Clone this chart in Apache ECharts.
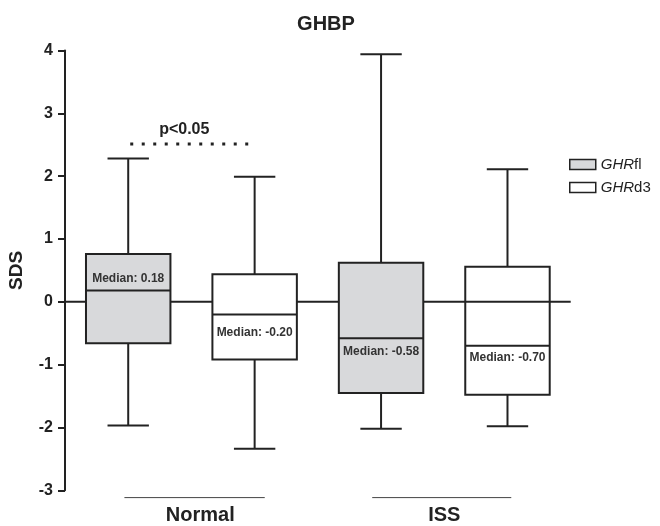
<!DOCTYPE html>
<html><head><meta charset="utf-8">
<script src="https://cdn.jsdelivr.net/npm/echarts@6/dist/echarts.min.js"></script>
<style>html,body{margin:0;padding:0;background:#fff}#c{width:660px;height:526px}</style>
</head><body><div id="c"></div>
<script>
// ---- data ----
const chartTitle = 'GHBP';
const yName = 'SDS';
const groups = ['Normal', 'ISS'];
const seriesNames = ['GHRfl', 'GHRd3'];
const categories = ['Normal GHRfl', 'Normal GHRd3', 'ISS GHRfl', 'ISS GHRd3'];
// each box: [min, Q1, median, Q3, max]
const ghrFl = [[-1.97, -0.66, 0.18, 0.76, 2.28], [-2.02, -1.45, -0.58, 0.62, 3.94]];
const ghrD3 = [[-2.34, -0.92, -0.20, 0.44, 1.99], [-1.98, -1.48, -0.70, 0.56, 2.11]];
const flCats = [0, 2];
const d3Cats = [1, 3];
const yTicks = [-3, -2, -1, 0, 1, 2, 3, 4];
const sigText = 'p<0.05';
const sigLevel = 2.51;

// ---- layout / style ----
const FONT = "'Liberation Sans', Arial, Helvetica, sans-serif";
const INK = '#222';
const flFill = ['#d8d9db', '#d8d9db'];
const d3Fill = ['#ffffff', 'rgba(255,255,255,0)'];
const flLabelOffset = [-12, 13];
const d3LabelOffset = [18, 12];
const groupSpan = [[0.47, 1.58], [2.43, 3.53]];
const groupLabelX = [1.07, 3.0];
const sigSpan = [0.516, 1.45];

function boxRender(fill, offs) {
  return function (params, api) {
    const x = api.value(0);
    const vals = [1, 2, 3, 4, 5].map(i => api.value(i));
    const pts = vals.map(v => api.coord([x, v]));
    const cx = pts[0][0];
    const band = api.size([1, 0])[0];
    const hw = band * 0.334;
    const cw = hw * 0.49;
    const pMin = pts[0][1], pQ1 = pts[1][1], pMed = pts[2][1], pQ3 = pts[3][1], pMax = pts[4][1];
    const ls = { stroke: INK, lineWidth: 2 };
    const i = params.dataIndex;
    return {
      type: 'group', children: [
        { type: 'line', shape: { x1: cx, y1: pQ3, x2: cx, y2: pMax }, style: ls },
        { type: 'line', shape: { x1: cx - cw, y1: pMax, x2: cx + cw, y2: pMax }, style: ls },
        { type: 'line', shape: { x1: cx, y1: pQ1, x2: cx, y2: pMin }, style: ls },
        { type: 'line', shape: { x1: cx - cw, y1: pMin, x2: cx + cw, y2: pMin }, style: ls },
        { type: 'rect', shape: { x: cx - hw, y: pQ3, width: 2 * hw, height: pQ1 - pQ3 }, style: { fill: fill[i], stroke: INK, lineWidth: 2 } },
        { type: 'line', shape: { x1: cx - hw, y1: pMed, x2: cx + hw, y2: pMed }, style: ls },
        { type: 'text', x: cx, y: pMed + offs[i], style: { text: 'Median: ' + vals[2].toFixed(2), font: 'bold 12px ' + FONT, fill: '#333', align: 'center', verticalAlign: 'middle' } }
      ]
    };
  };
}

const chart = echarts.init(document.getElementById('c'));
chart.setOption({
  backgroundColor: '#fff',
  animation: false,
  title: { text: chartTitle, left: 321, top: 9, textAlign: 'center', textStyle: { fontFamily: FONT, fontSize: 20, fontWeight: 'bold', color: INK } },
  legend: {
    orient: 'vertical', left: 564, top: 152, itemWidth: 26, itemHeight: 10, itemGap: 8, selectedMode: false,
    data: [
      { name: seriesNames[0], icon: 'rect', itemStyle: { color: flFill[0], borderColor: INK, borderWidth: 1.5 } },
      { name: seriesNames[1], icon: 'rect', itemStyle: { color: '#fff', borderColor: INK, borderWidth: 1.5 } }
    ],
    formatter: n => '{i|GHR}{n|' + n.slice(3) + '}',
    textStyle: { fontFamily: FONT, fontSize: 15, color: INK, rich: { i: { fontFamily: FONT, fontStyle: 'italic', fontSize: 15, color: INK }, n: { fontFamily: FONT, fontSize: 15, color: INK } } }
  },
  grid: { left: 65, right: 89.3, top: 50.5, bottom: 35.7, containLabel: false, outerBoundsMode: 'none' },
  xAxis: [
    { type: 'category', data: categories, boundaryGap: true, show: false },
    { type: 'value', min: 0, max: 4, show: false }
  ],
  yAxis: {
    type: 'value', min: yTicks[0], max: yTicks[yTicks.length - 1], interval: 1,
    name: yName, nameLocation: 'middle', nameRotate: 90, nameGap: 39,
    nameTextStyle: { fontFamily: FONT, fontSize: 19, fontWeight: 'bold', color: INK },
    axisLine: { show: true, lineStyle: { color: INK, width: 2 } },
    axisTick: { show: true, length: 7, lineStyle: { color: INK, width: 2 } },
    axisLabel: { margin: 12, fontFamily: FONT, fontSize: 16, fontWeight: 'bold', color: INK },
    splitLine: { show: false }
  },
  series: [
    { type: 'line', xAxisIndex: 1, data: [[0, 0], [4, 0]], symbol: 'none', lineStyle: { color: INK, width: 2 }, z: 1, silent: true },
    { name: seriesNames[0], type: 'custom', xAxisIndex: 0, z: 2, itemStyle: { color: flFill[0] },
      data: ghrFl.map((b, k) => [flCats[k]].concat(b)), encode: { x: 0, y: [1, 2, 3, 4, 5] }, renderItem: boxRender(flFill, flLabelOffset) },
    { name: seriesNames[1], type: 'custom', xAxisIndex: 0, z: 3, itemStyle: { color: '#fff' },
      data: ghrD3.map((b, k) => [d3Cats[k]].concat(b)), encode: { x: 0, y: [1, 2, 3, 4, 5] }, renderItem: boxRender(d3Fill, d3LabelOffset) },
    { type: 'custom', xAxisIndex: 1, clip: false, silent: true, z: 4,
      data: groups.map((g, k) => [k]),
      renderItem: function (params, api) {
        const k = api.value(0);
        const a = api.coord([groupSpan[k][0], yTicks[0]]);
        const b = api.coord([groupSpan[k][1], yTicks[0]]);
        const c = api.coord([groupLabelX[k], yTicks[0]]);
        return { type: 'group', children: [
          { type: 'line', shape: { x1: a[0], y1: a[1] + 7.3, x2: b[0], y2: b[1] + 7.3 }, style: { stroke: '#444', lineWidth: 1 } },
          { type: 'text', x: c[0], y: c[1] + 25, style: { text: groups[k], font: 'bold 20px ' + FONT, fill: INK, align: 'center', verticalAlign: 'middle' } }
        ] };
      }
    },
    { type: 'custom', xAxisIndex: 1, clip: false, silent: true, z: 4,
      data: [[sigLevel]],
      renderItem: function (params, api) {
        const y = api.value(0);
        const a = api.coord([sigSpan[0], y]);
        const b = api.coord([sigSpan[1], y]);
        return { type: 'group', children: [
          { type: 'line', shape: { x1: a[0], y1: a[1], x2: b[0], y2: b[1] }, style: { stroke: INK, lineWidth: 3, lineDash: [3, 8.5] } },
          { type: 'text', x: (a[0] + b[0]) / 2 - 5, y: a[1] - 15, style: { text: sigText, font: 'bold 16px ' + FONT, fill: INK, align: 'center', verticalAlign: 'middle' } }
        ] };
      }
    }
  ]
});
</script>
</body></html>
